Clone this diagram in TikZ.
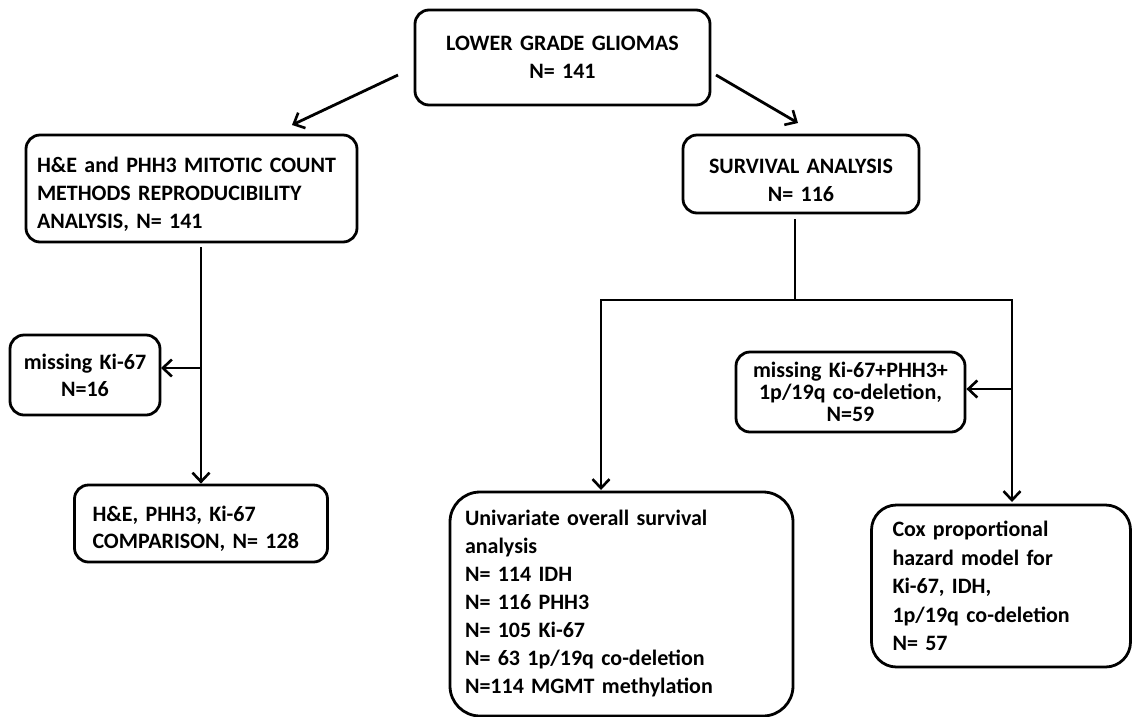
\documentclass[tikz,border=0pt]{standalone}
\usepackage{fontspec}
\setmainfont{Carlito}
\usetikzlibrary{arrows.meta}
\begin{document}
\begin{tikzpicture}[x=1pt,y=-1pt,
 box/.style={draw, line width=2.8pt, rounded corners=14pt, inner sep=0pt,
   font=\fontsize{22pt}{28pt}\selectfont\bfseries},
 down/.style={execute at begin node={\rule{0pt}{#1}}},
 arr/.style={line width=2.8pt, -{Straight Barb[length=9pt,width=17pt,line width=2.6pt]}},
 ln/.style={line width=2.8pt}]
\useasboundingbox (0,0) rectangle (1133,716);

\node[box, minimum width=295pt, minimum height=95pt, text width=275pt, align=center] (top) at (562.5,57.5)
  {LOWER GRADE GLIOMAS\\N= 141};
\node[box, minimum width=331pt, minimum height=107pt, inner xsep=11pt, text width=309pt, align=left, down=27pt] (repro) at (191.5,188.5)
  {H\&E and PHH3 MITOTIC COUNT\\METHODS REPRODUCIBILITY\\ANALYSIS, N= 141};
\node[box, minimum width=236pt, minimum height=78pt, text width=216pt, align=center, down=27pt] (surv) at (801,174)
  {SURVIVAL ANALYSIS\\N= 116};
\node[box, minimum width=150pt, minimum height=80pt, text width=140pt, align=center,
  font=\fontsize{22pt}{27pt}\selectfont\bfseries] (miss1) at (85,375)
  {missing Ki-67\\N=16};
\node[box, minimum width=253pt, minimum height=77pt, inner xsep=18pt, text width=217pt, align=left, down=25pt,
  font=\fontsize{22pt}{27pt}\selectfont\bfseries] (comp) at (201,523.5)
  {H\&E, PHH3, Ki-67\\COMPARISON, N= 128};
\node[box, rounded corners=30pt, minimum width=343pt, minimum height=224pt, inner xsep=15pt, text width=313pt, align=left] (univ) at (621.5,604)
  {Univariate overall survival\\analysis\\N= 114 IDH\\N= 116 PHH3\\N= 105 Ki-67\\N= 63 1p/19q co-deletion\\N=114 MGMT methylation};
\node[box, minimum width=229pt, minimum height=80pt, text width=219pt, align=center,
  font=\fontsize{22pt}{22pt}\selectfont\bfseries] (miss2) at (850.5,392)
  {missing Ki-67+PHH3+\\1p/19q co-deletion,\\N=59};
\node[box, rounded corners=25pt, minimum width=258pt, minimum height=162pt, inner xsep=21pt, text width=217pt, align=left,
  font=\fontsize{22pt}{28.5pt}\selectfont\bfseries] (cox) at (1001,586)
  {Cox proportional\\hazard model for\\Ki-67, IDH,\\1p/19q co-deletion\\N= 57};

\coordinate (tl) at (398,75);
\coordinate (tle) at (292,125);
\coordinate (tr) at (716,75);
\coordinate (tre) at (798,123);
\coordinate (rb) at (201,247);
\coordinate (rm) at (201,368);
\coordinate (m1e) at (161,368);
\coordinate (sb) at (795,219);
\coordinate (jm) at (795,300);
\coordinate (ue) at (601,490);
\coordinate (ce) at (1012,502);
\coordinate (cm) at (1012,389);

\draw[arr] (tl) -- (tle);
\draw[arr] (tr) -- (tre);
\draw[arr] (rb) -- (comp.north);
\draw[arr] (rm) -- (m1e);
\draw[ln] (sb) -- (jm);
\draw[arr] (jm) -| (ue);
\draw[arr] (jm) -| (ce);
\draw[arr] (cm) -- (miss2.east |- cm);
\end{tikzpicture}
\end{document}
